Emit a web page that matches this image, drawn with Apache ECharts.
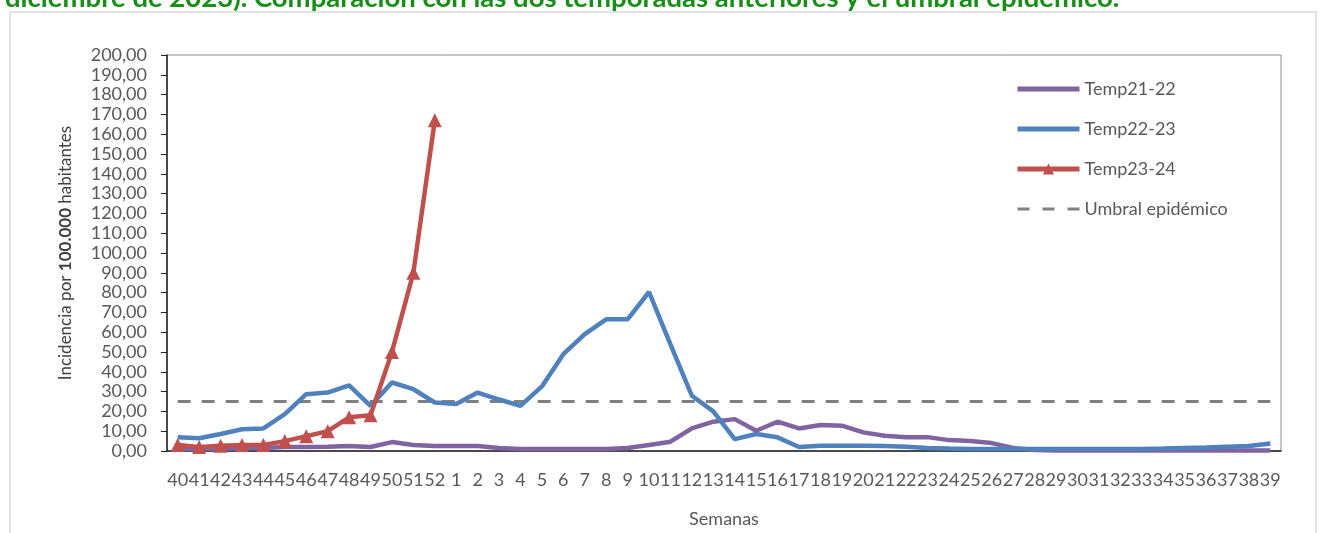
<!DOCTYPE html>
<html>
<head>
<meta charset="utf-8">
<script src="https://cdn.jsdelivr.net/npm/echarts@6/dist/echarts.min.js"></script>
<style>
  html, body { margin: 0; padding: 0; background: #fff; }
  #chart { width: 1324px; height: 533px; }
</style>
</head>
<body>
<div id="chart"></div>
<script>
// semanas epidemiológicas, de la 40 a la 39
const semanas = ['40','41','42','43','44','45','46','47','48','49','50','51','52',
  '1','2','3','4','5','6','7','8','9','10','11','12','13','14','15','16','17','18','19','20',
  '21','22','23','24','25','26','27','28','29','30','31','32','33','34','35','36','37','38','39'];

const temp2122 = [1, 1, 1, 1.5, 1.5, 2, 2, 2.2, 2.5, 2, 4.5, 3, 2.5,
  2.5, 2.5, 1.5, 1, 1, 1, 1, 1, 1.5, 3, 4.7, 11.4, 14.8, 16.1, 10.2, 14.8, 11.4, 13.1, 12.8, 9.4,
  7.7, 7, 7, 5.5, 5, 4, 1.5, 0.5, 0.3, 0.3, 0.3, 0.3, 0.3, 0.3, 0.3, 0.3, 0.3, 0.3, 0.3];

const temp2223 = [6.9, 6.4, 8.6, 11, 11.4, 18.6, 28.7, 29.5, 33.2, 22.8, 34.6, 31.2, 24.5,
  23.7, 29.5, 26, 22.8, 32.6, 48.9, 59, 66.5, 66.5, 80.3, 53.9, 27.9, 20, 6, 8.6, 6.9, 2, 2.7, 2.7, 2.7,
  2.5, 2.2, 1.5, 1.2, 1, 1, 1, 1, 1, 1, 1, 1, 1, 1.2, 1.5, 1.8, 2.2, 2.5, 3.8];

const temp2324 = [3, 2, 2.7, 3, 3, 5, 7.5, 10, 17, 18, 50, 90, 167];

const umbral = [25, 25, 25, 25, 25, 25, 25, 25, 25, 25, 25, 25, 25,
  25, 25, 25, 25, 25, 25, 25, 25, 25, 25, 25, 25, 25, 25, 25, 25, 25, 25, 25, 25,
  25, 25, 25, 25, 25, 25, 25, 25, 25, 25, 25, 25, 25, 25, 25, 25, 25, 25, 25];

const gris = '#595959';
const fuente = 'Lato';

const chart = echarts.init(document.getElementById('chart'));
chart.setOption({
  animation: false,
  textStyle: { fontFamily: fuente },
  title: {
    text: 'diciembre de 2023). Comparación con las dos temporadas anteriores y el umbral epidémico.',
    left: 0,
    top: -21,
    textStyle: { color: '#178f17', fontSize: 27.5, fontWeight: 'bold', fontFamily: fuente }
  },
  graphic: [{
    type: 'rect',
    shape: { x: 10, y: 12, width: 1306, height: 540 },
    style: { fill: 'none', stroke: '#d9d9d9', lineWidth: 1.5 },
    silent: true
  }],
  legend: {
    orient: 'vertical',
    left: 1010,
    top: 75,
    itemWidth: 62,
    itemHeight: 14,
    itemGap: 22,
    textStyle: { color: gris, fontSize: 18, fontFamily: fuente },
    data: [
      { name: 'Temp21-22', itemStyle: { opacity: 0 }, lineStyle: { width: 5 } },
      { name: 'Temp22-23', itemStyle: { opacity: 0 }, lineStyle: { width: 5 } },
      { name: 'Temp23-24', lineStyle: { width: 5 } },
      { name: 'Umbral epidémico', itemStyle: { opacity: 0 }, lineStyle: { width: 3, type: [12, 13] } }
    ]
  },
  grid: { left: 167, right: 43, top: 55, bottom: 81, show: true, borderColor: '#8c8c8c', borderWidth: 1 },
  xAxis: {
    type: 'category',
    data: semanas,
    boundaryGap: true,
    name: 'Semanas',
    nameLocation: 'middle',
    nameGap: 59,
    nameTextStyle: { color: gris, fontSize: 18 },
    axisLine: { lineStyle: { color: '#222', width: 1.5 } },
    axisTick: { inside: true, length: 5, lineStyle: { color: '#222' } },
    axisLabel: { interval: 0, color: gris, fontSize: 18, margin: 20 }
  },
  yAxis: {
    type: 'value',
    min: 0,
    max: 200,
    interval: 10,
    name: '{a|Incidencia por }{b|100.000}{a| habitantes}',
    nameLocation: 'middle',
    nameGap: 93,
    nameTextStyle: {
      rich: {
        a: { color: '#404040', fontSize: 17, fontFamily: fuente },
        b: { color: '#404040', fontSize: 17, fontWeight: 'bold', fontFamily: fuente }
      }
    },
    axisLine: { show: true, lineStyle: { color: '#222', width: 1.5 } },
    axisTick: { show: true, length: 6, lineStyle: { color: '#222' } },
    splitLine: { show: false },
    axisLabel: {
      color: gris,
      fontSize: 18,
      margin: 20,
      formatter: v => v.toFixed(2).replace('.', ',')
    }
  },
  series: [
    {
      name: 'Temp21-22', type: 'line', data: temp2122, z: 3,
      symbol: 'none', itemStyle: { color: '#8064a2' },
      lineStyle: { color: '#8064a2', width: 4.5 }
    },
    {
      name: 'Temp22-23', type: 'line', data: temp2223, z: 4,
      symbol: 'none', itemStyle: { color: '#4f81bd' },
      lineStyle: { color: '#4f81bd', width: 4.5 }
    },
    {
      name: 'Temp23-24', type: 'line', data: temp2324, z: 5,
      symbol: 'triangle', symbolSize: 14, showSymbol: true,
      itemStyle: { color: '#c0504d' },
      lineStyle: { color: '#c0504d', width: 4.5 }
    },
    {
      name: 'Umbral epidémico', type: 'line', data: umbral, z: 2,
      symbol: 'none', itemStyle: { color: '#808080' },
      lineStyle: { color: '#808080', width: 3, type: [13, 11] }
    }
  ]
});
</script>
</body>
</html>
